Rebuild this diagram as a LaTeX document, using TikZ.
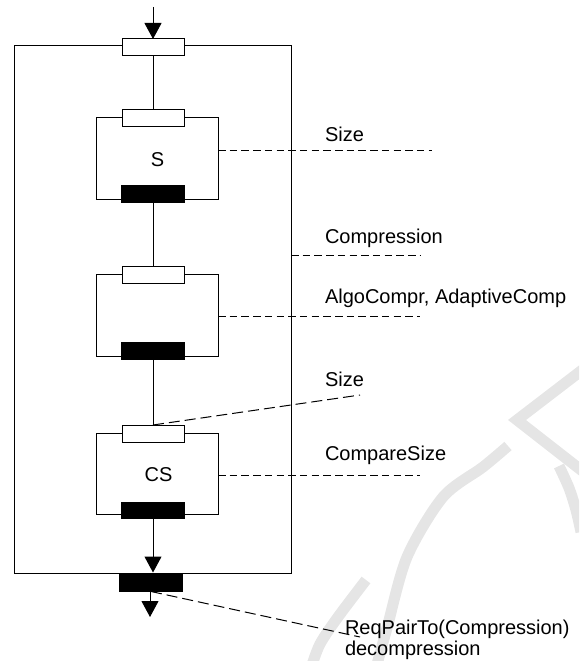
\documentclass[tikz,border=0pt]{standalone}
\usepackage{fontspec}
\setmainfont{Liberation Sans}
\usetikzlibrary{arrows.meta}

\begin{document}
\begin{tikzpicture}[x=1pt,y=-1pt,
  every node/.style={inner sep=0pt,outer sep=0pt},
  frame/.style={draw,line width=1pt},
  port/.style={draw,line width=1pt,fill=white,minimum width=62pt,minimum height=17pt},
  bar/.style={fill=black,minimum width=64pt,minimum height=18pt},
  unit/.style={draw,line width=1pt,minimum width=122pt,minimum height=82pt},
  link/.style={line width=1pt},
  flow/.style={line width=1pt,-{Triangle[width=17pt,length=16pt]}},
  hint/.style={line width=1pt,dash pattern=on 7.5pt off 4.2pt},
  slant/.style={line width=1pt,dash pattern=on 11pt off 5pt},
  lbl/.style={anchor=base west,font=\fontsize{20}{21}\selectfont},
  inname/.style={font=\fontsize{20}{21}\selectfont},
  wm/.style={draw=black!10,line width=11pt}
]
\useasboundingbox (0,0) rectangle (579,661);

% faint stamp strokes in the lower right corner
\begin{scope}
  \clip (0,0) rectangle (579,661);
  \draw[wm] (590,364) -- (517,420) -- (590,477);
  \draw[wm] plot[smooth] coordinates {(376,668) (387,628) (407,557) (443,497) (483,467) (508,446)};
  \draw[wm] plot[smooth] coordinates {(366,580) (338,617) (320,644) (311,668)};
  \draw[wm] plot[smooth] coordinates {(559,466) (569,488) (576,510) (581,532)};
\end{scope}

% outer composite and the three inner units
\node[frame,minimum width=277pt,minimum height=527pt] (outer) at (152.5,309.5) {};
\node[unit] (sbox) at (157,158) {};
\node[unit] (abox) at (157,315) {};
\node[unit,minimum height=81pt] (cbox) at (157,473.5) {};

% input ports (white) and output ports (black)
\node[port] (inport) at (153,47.5) {};
\node[port] (sin) at (153,117.5) {};
\node[bar] (sout) at (153,194) {};
\node[port] (ain) at (153,274.5) {};
\node[bar] (aout) at (153,351) {};
\node[port] (cin) at (153,433.5) {};
\node[bar,minimum height=17pt] (cout) at (153,510) {};
\node[bar] (oout) at (151,582.5) {};

% flow between ports
\coordinate (inTop) at (153,7);
\coordinate (outTip) at (150,617);
\draw[flow] (inTop) -- (inport.north);
\draw[link] (inport.south) -- (sin.north);
\draw[link] (sout.south) -- (ain.north);
\draw[link] (aout.south) -- (cin.north);
\draw[flow] (cout.south) -- ([yshift=0.5pt]cout.south |- outer.south);
\draw[flow] (oout.south -| outTip) -- (outTip);

% unit names
\node[inname] (sname) at (157.5,160) {S};
\node[inname] (csname) at (158.5,475) {CS};

% annotations
\node[lbl] (l1) at (325,141) {Size};
\node[lbl] (l2) at (325,243) {Compression};
\node[lbl] (l3) at (325,303) {AlgoCompr, AdaptiveComp};
\node[lbl] (l4) at (325,386) {Size};
\node[lbl] (l5) at (325,460) {CompareSize};
\node[lbl] (l6) at (345,634) {ReqPairTo(Compression)};
\node[lbl] (l7) at (345,655) {decompression};

\coordinate (e1) at (432,150);
\coordinate (e2) at (420,255);
\coordinate (e3) at (420,316);
\coordinate (e4) at (360,395);
\coordinate (e5) at (420,475);
\coordinate (e6) at (360,637);
\draw[hint] (sbox.east |- e1) -- (e1);
\draw[hint] (outer.east |- e2) -- (e2);
\draw[hint] (abox.east |- e3) -- (e3);
\draw[slant] (cin.north) -- (e4);
\draw[hint] (cbox.east |- e5) -- (e5);
\draw[slant] (oout.south) -- (e6);
\end{tikzpicture}
\end{document}
